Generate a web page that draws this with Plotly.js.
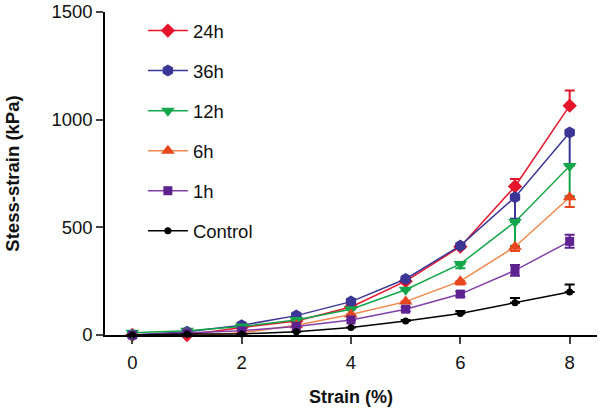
<!DOCTYPE html>
<html><head><meta charset="utf-8">
<script src="https://cdn.plot.ly/plotly-3.0.1.min.js"></script>
<style>html,body{margin:0;padding:0;background:#fff}#chart{width:607px;height:413px}</style>
</head><body><div id="chart"></div>
<script>
const strain = [0,1,2,3,4,5,6,7,8];
const names = ['24h','36h','12h','6h','1h','Control'];
const v24 = [0, 0, 35, 65, 130, 250, 410, 690, 1065];
const v36 = [0, 15, 45, 90, 155, 260, 415, 640, 940];
const v12 = [10, 20, 40, 70, 120, 210, 330, 525, 785];
const v6 = [-10, -5, 10, 45, 95, 155, 250, 410, 640];
const v1 = [0, 10, 20, 40, 70, 120, 190, 300, 435];
const vC = [0, 5, 5, 15, 35, 65, 100, 150, 200];
const e24p = [0,0,0,0,0,0,0,35,70];
const e36m = [0,0,0,0,0,0,0,100,150];
const e12m = [0,0,0,0,0,0,20,110,140];
const e6m = [0,0,0,0,0,0,15,20,45];
const e1 = [0,0,0,0,0,10,12,25,30];
const eCp = [0,0,0,0,0,5,12,22,35];

function tr(name, y, color, lineColor, symbol, size, err){
  return {x: strain, y: y, name: name, mode:'lines+markers', type:'scatter',
    line:{color: lineColor, width:1.5},
    marker:{color: color, symbol: symbol, size: size},
    error_y: Object.assign({type:'data', color: color, thickness:2, width:5, visible:true}, err),
    cliponaxis:false, legendgroup: name};
}
const zeros = strain.map(()=>0);
const data = [
  tr(names[0], v24, '#e5142b', '#e5142b', 'diamond', 11, {symmetric:false, array:e24p, arrayminus:zeros}),
  tr(names[1], v36, '#3b3696', '#3b3696', 'hexagon', 12, {symmetric:false, array:zeros, arrayminus:e36m}),
  tr(names[2], v12, '#14a64a', '#14a64a', 'triangle-down', 12, {symmetric:false, array:zeros, arrayminus:e12m}),
  tr(names[3], v6, '#e8461e', '#f0874a', 'triangle-up', 12, {symmetric:false, array:zeros, arrayminus:e6m}),
  tr(names[4], v1, '#5e2290', '#8040a8', 'square', 9, {symmetric:true, array:e1}),
  tr(names[5], vC, '#000000', '#000000', 'circle', 7, {symmetric:false, array:eCp, arrayminus:zeros})
];
const layout = {
  width:607, height:413,
  margin:{l:105, r:10, t:12, b:78},
  paper_bgcolor:'#fff', plot_bgcolor:'#fff',
  font:{family:'Liberation Sans, Arial, sans-serif', size:18, color:'#111'},
  showlegend:true,
  legend:{x:0.077, y:1.0, xanchor:'left', yanchor:'top', bgcolor:'rgba(0,0,0,0)',
    font:{size:18.5}, tracegroupgap:13, itemwidth:40},
  xaxis:{range:[-0.5,8.5], tickvals:[0,2,4,6,8], ticks:'outside', ticklen:7, tickwidth:1.5,
    showline:true, linecolor:'#000', linewidth:1.5, showgrid:false, zeroline:false,
    ticklabelstandoff:3,
    tickfont:{size:18.5}, title:{text:'<b>Strain (%)</b>', font:{size:18}, standoff:18}},
  yaxis:{range:[0,1500], tickvals:[0,500,1000,1500], ticks:'outside', ticklen:7, tickwidth:1.5,
    showline:true, linecolor:'#000', linewidth:1.5, showgrid:false, zeroline:false,
    tickfont:{size:18.5}, title:{text:'<b>Stess-strain (kPa)</b>', font:{size:18.5}, standoff:27}}
};
Plotly.newPlot('chart', data, layout, {displayModeBar:false});
</script></body></html>
